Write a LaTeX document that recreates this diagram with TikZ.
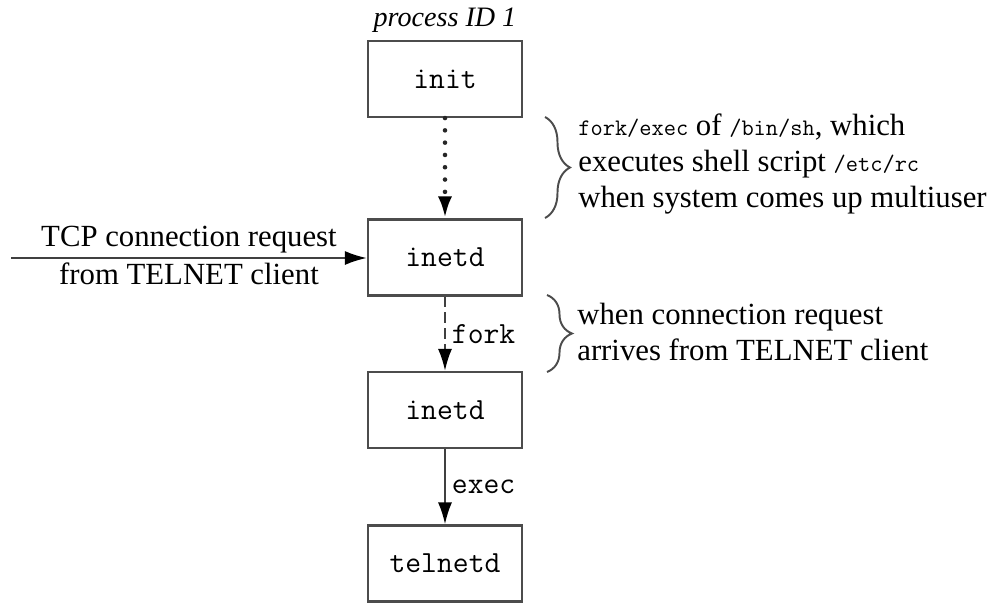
\documentclass[tikz,border=0pt]{standalone}
\usepackage{fontspec}
\setmainfont{Liberation Serif}
\usepackage{tikz}
\usetikzlibrary{arrows.meta, positioning, decorations.pathreplacing}

\begin{document}
\begin{tikzpicture}[proc/.style={draw=black!70, line width=1.2pt, minimum width=3.08cm, minimum height=1.52cm, font=\fontsize{17.5}{20}\selectfont\ttfamily},
	link/.style={draw=black!75, line width=1.2pt, -{Latex[length=0.44cm, width=0.28cm, color=black]}},
	note/.style={align=left, anchor=west, inner sep=0pt, font=\fontsize{17.5}{20.5}\selectfont},
	curly/.style={draw=black!70, line width=1.1pt, decorate, decoration={brace, amplitude=0.5cm}}]
	% Define small typewriter text used inside the notes
	\newcommand\prog[1]{{\fontsize{13.5}{14}\selectfont\ttfamily #1}}
	% Fix the size of the picture
	\useasboundingbox (0,0) rectangle (20.02,-12.06);

	% Draw the process boxes
	\foreach \name/\txt/\y in {init/init/-1.58, inetd/inetd/-5.15, child/inetd/-8.2, telnetd/telnetd/-11.27} {
		\node[proc] (\name) at (8.9,\y) {\txt};
	}
	\node[font=\fontsize{16}{18}\selectfont\itshape, above=0.03cm of init] (pid) {process ID 1};

	% Connect the boxes
	\draw[link, draw=black!85, line cap=round, dash pattern=on 0pt off 7pt, line width=2.6pt] (init) -- (inetd);
	\draw[link, dash pattern=on 6pt off 3pt] (inetd) -- node[right, font=\fontsize{17.5}{20}\selectfont\ttfamily] (forklbl) {fork} (child);
	\draw[link] (child) -- node[right, font=\fontsize{17.5}{20}\selectfont\ttfamily] (execlbl) {exec} (telnetd);

	% Incoming request
	\coordinate (client) at (0.22,-5.16);
	\draw[link] (client) -- node[above, font=\fontsize{17.5}{20}\selectfont, inner sep=2pt] (tcp) {TCP connection request}
		node[below, font=\fontsize{17.5}{20}\selectfont, inner sep=2pt] (from) {from TELNET client} (client -| inetd.west);

	% Braces with their notes
	\draw[curly] (10.9,-2.34) -- (10.9,-4.36) coordinate[midway, xshift=0.55cm] (tip1);
	\node[note] (note1) at (11.56,-3.28) {\prog{fork/exec} of \prog{/bin/sh}, which\\executes shell script \prog{/etc/rc}\\when system comes up multiuser};
	\draw[curly] (10.94,-5.9) -- (10.94,-7.44) coordinate[midway, xshift=0.55cm] (tip2);
	\node[note] (note2) at (11.54,-6.63) {when connection request\\arrives from TELNET client};
\end{tikzpicture}
\end{document}
